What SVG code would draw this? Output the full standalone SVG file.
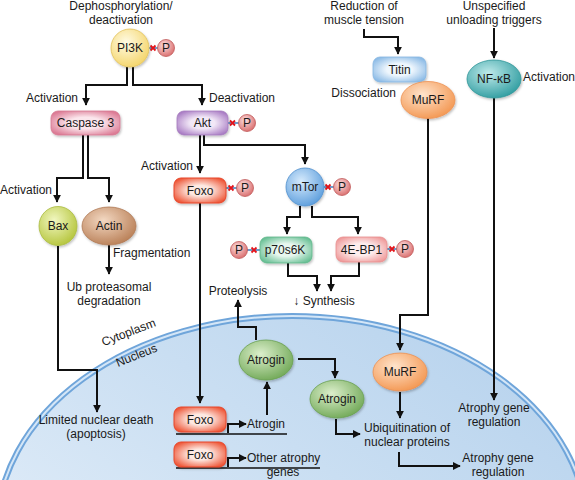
<svg xmlns="http://www.w3.org/2000/svg" width="575" height="480" viewBox="0 0 575 480">
<defs>
<style>
text{font-family:"Liberation Sans",Arial,sans-serif;font-size:12px;fill:#1a1a1a}
.m{text-anchor:middle}
.e{text-anchor:end}
.c{fill:none;stroke:#111;stroke-width:2}
.ca{fill:none;stroke:#111;stroke-width:2;marker-end:url(#ah)}
.dna{fill:none;stroke:#111;stroke-width:1.6}
.xm{stroke:#e3141b;stroke-width:1.8;fill:none}
.bl{stroke:#2f6fb5;stroke-width:1.4}
.pc{fill:url(#gP);stroke:#c05a5a;stroke-width:0.8}
</style>
<marker id="ah" viewBox="0 0 10 10" refX="9" refY="5" markerWidth="4" markerHeight="4" orient="auto" markerUnits="strokeWidth">
<path d="M0,0 L10,5 L0,10 z" fill="#111"/>
</marker>
<filter id="sh" x="-20%" y="-20%" width="150%" height="150%">
<feDropShadow dx="1" dy="1.5" stdDeviation="1" flood-color="#000" flood-opacity="0.25"/>
</filter>
<linearGradient id="gNuc" x1="0" y1="1" x2="1" y2="0">
<stop offset="0" stop-color="#eef5fc"/>
<stop offset="0.6" stop-color="#c9def2"/>
<stop offset="1" stop-color="#b3d0ec"/>
</linearGradient>
<radialGradient id="gP" cx="0.4" cy="0.35" r="0.7"><stop offset="0" stop-color="#fde0e0"/><stop offset="1" stop-color="#d86a6a"/></radialGradient>
<radialGradient id="gPI3K" cx="0.4" cy="0.35" r="0.7"><stop offset="0" stop-color="#fffbe4"/><stop offset="1" stop-color="#f4d468"/></radialGradient>
<radialGradient id="gBax" cx="0.4" cy="0.35" r="0.7"><stop offset="0" stop-color="#f1f7c0"/><stop offset="1" stop-color="#b4c43a"/></radialGradient>
<radialGradient id="gActin" cx="0.4" cy="0.35" r="0.7"><stop offset="0" stop-color="#f3d8c2"/><stop offset="1" stop-color="#b87e55"/></radialGradient>
<radialGradient id="gMtor" cx="0.4" cy="0.35" r="0.7"><stop offset="0" stop-color="#d6eafc"/><stop offset="1" stop-color="#5b9ddc"/></radialGradient>
<radialGradient id="gMurf" cx="0.4" cy="0.35" r="0.7"><stop offset="0" stop-color="#ffe4cc"/><stop offset="1" stop-color="#f39650"/></radialGradient>
<radialGradient id="gNfkb" cx="0.4" cy="0.35" r="0.7"><stop offset="0" stop-color="#bfeaea"/><stop offset="1" stop-color="#2e9ca0"/></radialGradient>
<radialGradient id="gAtro" cx="0.4" cy="0.35" r="0.7"><stop offset="0" stop-color="#dcefcc"/><stop offset="1" stop-color="#70a856"/></radialGradient>
<radialGradient id="gCasp" cx="0.5" cy="0.5" r="0.6"><stop offset="0.4" stop-color="#fbe6ec"/><stop offset="1" stop-color="#dc7b95"/></radialGradient>
<radialGradient id="gAkt" cx="0.5" cy="0.5" r="0.6"><stop offset="0.4" stop-color="#f2e8f7"/><stop offset="1" stop-color="#a97cc4"/></radialGradient>
<radialGradient id="gFoxo" cx="0.5" cy="0.5" r="0.6"><stop offset="0.35" stop-color="#fde9e2"/><stop offset="1" stop-color="#ee5536"/></radialGradient>
<radialGradient id="gTitin" cx="0.5" cy="0.5" r="0.6"><stop offset="0.4" stop-color="#eef6fd"/><stop offset="1" stop-color="#8cbbe6"/></radialGradient>
<radialGradient id="gP70" cx="0.5" cy="0.5" r="0.6"><stop offset="0.4" stop-color="#e8f7ef"/><stop offset="1" stop-color="#69c095"/></radialGradient>
<radialGradient id="g4e" cx="0.5" cy="0.5" r="0.6"><stop offset="0.4" stop-color="#fdeded"/><stop offset="1" stop-color="#ef9a9a"/></radialGradient>
</defs>

<rect width="575" height="480" fill="#fff"/>

<!-- Nucleus -->
<g id="nucleus">
<ellipse cx="292" cy="530" rx="295" ry="214" fill="url(#gNuc)" stroke="#6fa5da" stroke-width="6"/>
<ellipse cx="292" cy="530" rx="295" ry="214" fill="none" stroke="#d4e6f7" stroke-width="2"/>
<text class="m" transform="translate(130,336) rotate(-21)">Cytoplasm</text>
<text class="m" transform="translate(138,359) rotate(-22)">Nucleus</text>
</g>

<!-- Connectors -->
<g id="connectors">
<path class="ca" d="M127,67 V85 H86 V105"/>
<path class="ca" d="M133,67 V85 H202 V105"/>
<path class="ca" d="M200,135 V173"/>
<path class="ca" d="M204,135 V145 H305 V164"/>
<path class="ca" d="M83,135 V178 H57 V202"/>
<path class="ca" d="M88,135 V178 H109 V202"/>
<path class="ca" d="M109,245 V274"/>
<path class="ca" d="M58,246 V370 H97 V412"/>
<path class="ca" d="M200,203 V403"/>
<path class="ca" d="M300,206 V217 H287 V234"/>
<path class="ca" d="M312,206 V217 H358 V234"/>
<path class="ca" d="M288,263 V276 H317 V291"/>
<path class="ca" d="M359,262 V276 H331 V291"/>
<path class="ca" d="M364,29 V37 H398 V54"/>
<path class="ca" d="M428,118 V315 H400 V350"/>
<path class="ca" d="M494,28 V58"/>
<path class="ca" d="M494,98 V400"/>
<path class="ca" d="M267,415 V382"/>
<path class="ca" d="M256,340 V327 H238 V300"/>
<path class="ca" d="M298,359 H335 V378"/>
<path class="ca" d="M336,419 V434 H360"/>
<path class="ca" d="M400,392 V418"/>
<path class="ca" d="M399,452 V466 H460"/>
<path class="ca" d="M228,433 V424 H246"/>
<path class="ca" d="M228,467 V458 H246"/>
<path class="dna" d="M176,434 H287"/>
<path class="dna" d="M176,468 H320"/>
</g>

<!-- Labels -->
<g id="labels">
<text class="m" x="121" y="9.5">Dephosphorylation/</text>
<text class="m" x="121" y="23.5">deactivation</text>
<text class="m" x="364" y="9.5">Reduction of</text>
<text class="m" x="364" y="23.5">muscle tension</text>
<text class="m" x="494" y="9.5">Unspecified</text>
<text class="m" x="494" y="23.5">unloading triggers</text>
<text class="e" x="78" y="102">Activation</text>
<text x="209" y="102">Deactivation</text>
<text class="e" x="52" y="194">Activation</text>
<text class="e" x="193" y="170">Activation</text>
<text class="e" x="396" y="97">Dissociation</text>
<text x="523" y="81">Activation</text>
<text x="113" y="257">Fragmentation</text>
<text class="m" x="109" y="291">Ub proteasomal</text>
<text class="m" x="109" y="304.5">degradation</text>
<text class="m" x="238" y="295">Proteolysis</text>
<text class="m" x="324" y="305">↓ Synthesis</text>
<text class="m" x="96" y="424">Limited nuclear death</text>
<text class="m" x="96" y="438">(apoptosis)</text>
<text x="247" y="428">Atrogin</text>
<text x="247" y="462">Other atrophy</text>
<text class="m" x="283" y="476">genes</text>
<text class="m" x="407" y="432">Ubiquitination of</text>
<text class="m" x="407" y="445.5">nuclear proteins</text>
<text class="m" x="494" y="412">Atrophy gene</text>
<text class="m" x="494" y="425.5">regulation</text>
<text class="m" x="498" y="462">Atrophy gene</text>
<text class="m" x="498" y="476">regulation</text>
</g>

<!-- Nodes -->
<g id="pi3k">
<line class="bl" x1="149" y1="48" x2="158" y2="48"/>
<path class="xm" d="M150.5,45.5 l5,5 M155.5,45.5 l-5,5"/>
<circle cx="130" cy="48" r="19" fill="url(#gPI3K)" stroke="#e2c25a" stroke-width="0.8" filter="url(#sh)"/>
<text class="m" x="130" y="52">PI3K</text>
<circle class="pc" cx="166" cy="48" r="8.5"/>
<text class="m" x="166" y="52">P</text>
</g>

<g id="caspase3">
<rect x="51" y="111" width="69" height="24" rx="7" fill="url(#gCasp)" stroke="#d57a92" stroke-width="0.8" filter="url(#sh)"/>
<text class="m" x="85.5" y="127">Caspase 3</text>
</g>

<g id="akt">
<line class="bl" x1="228" y1="123" x2="239" y2="123"/>
<path class="xm" d="M230,120.5 l5,5 M235,120.5 l-5,5"/>
<rect x="177" y="111" width="51" height="24" rx="7" fill="url(#gAkt)" stroke="#a47bbe" stroke-width="0.8" filter="url(#sh)"/>
<text class="m" x="202.5" y="127">Akt</text>
<circle class="pc" cx="247" cy="123" r="8.5"/>
<text class="m" x="247" y="127">P</text>
</g>

<g id="bax">
<ellipse cx="58" cy="226" rx="19" ry="19.5" fill="url(#gBax)" stroke="#aabb40" stroke-width="0.8" filter="url(#sh)"/>
<text class="m" x="58" y="230">Bax</text>
</g>

<g id="actin">
<ellipse cx="109" cy="226" rx="27" ry="19" fill="url(#gActin)" stroke="#b07a55" stroke-width="0.8" filter="url(#sh)"/>
<text class="m" x="109" y="230">Actin</text>
</g>

<g id="foxo">
<line class="bl" x1="226" y1="188" x2="237" y2="188"/>
<path class="xm" d="M228.5,185.5 l5,5 M233.5,185.5 l-5,5"/>
<rect x="174" y="178" width="52" height="25" rx="7" fill="url(#gFoxo)" stroke="#e8472a" stroke-width="1" filter="url(#sh)"/>
<text class="m" x="200" y="194.5">Foxo</text>
<circle class="pc" cx="245" cy="188" r="8.5"/>
<text class="m" x="245" y="192">P</text>
</g>

<g id="mtor">
<line class="bl" x1="323" y1="187" x2="334" y2="187"/>
<path class="xm" d="M325.5,184.5 l5,5 M330.5,184.5 l-5,5"/>
<circle cx="305" cy="187" r="19" fill="url(#gMtor)" stroke="#4f8fce" stroke-width="0.8" filter="url(#sh)"/>
<text class="m" x="305" y="191">mTor</text>
<circle class="pc" cx="342" cy="187" r="8.5"/>
<text class="m" x="342" y="191">P</text>
</g>

<g id="p70s6k">
<line class="bl" x1="247" y1="250" x2="260" y2="250"/>
<path class="xm" d="M251.5,247.5 l5,5 M256.5,247.5 l-5,5"/>
<rect x="260" y="237" width="52" height="26" rx="7" fill="url(#gP70)" stroke="#5fb68a" stroke-width="0.8" filter="url(#sh)"/>
<text class="m" x="285" y="254">p70s6K</text>
<circle class="pc" cx="239" cy="250" r="8.5"/>
<text class="m" x="239" y="254">P</text>
</g>

<g id="fourebp1">
<line class="bl" x1="387" y1="249" x2="398" y2="249"/>
<path class="xm" d="M389.5,246.5 l5,5 M394.5,246.5 l-5,5"/>
<rect x="336" y="237" width="51" height="25" rx="7" fill="url(#g4e)" stroke="#e88e8e" stroke-width="0.8" filter="url(#sh)"/>
<text class="m" x="361.5" y="253.5">4E-BP1</text>
<circle class="pc" cx="405" cy="249" r="8.5"/>
<text class="m" x="405" y="253">P</text>
</g>

<g id="titin">
<rect x="373" y="57" width="53" height="25" rx="7" fill="url(#gTitin)" stroke="#86b6e2" stroke-width="0.8" filter="url(#sh)"/>
<text class="m" x="399.5" y="73.5">Titin</text>
</g>

<g id="murf1">
<ellipse cx="428" cy="100" rx="27" ry="18.5" fill="url(#gMurf)" stroke="#ee9050" stroke-width="0.8" filter="url(#sh)"/>
<text class="m" x="428" y="104">MuRF</text>
</g>

<g id="nfkb">
<ellipse cx="494" cy="79" rx="27" ry="19" fill="url(#gNfkb)" stroke="#2e9598" stroke-width="0.8" filter="url(#sh)"/>
<text class="m" x="494" y="83">NF-κB</text>
</g>

<g id="atrogin1">
<ellipse cx="266" cy="360" rx="27" ry="20" fill="url(#gAtro)" stroke="#6aa050" stroke-width="0.8" filter="url(#sh)"/>
<text class="m" x="266" y="364">Atrogin</text>
</g>

<g id="atrogin2">
<ellipse cx="337" cy="399" rx="27" ry="19" fill="url(#gAtro)" stroke="#6aa050" stroke-width="0.8" filter="url(#sh)"/>
<text class="m" x="337" y="403">Atrogin</text>
</g>

<g id="murf2">
<ellipse cx="400" cy="372" rx="27" ry="19" fill="url(#gMurf)" stroke="#ee9050" stroke-width="0.8" filter="url(#sh)"/>
<text class="m" x="400" y="376">MuRF</text>
</g>

<g id="foxo2">
<rect x="174" y="407" width="52" height="25" rx="7" fill="url(#gFoxo)" stroke="#e8472a" stroke-width="1" filter="url(#sh)"/>
<text class="m" x="200" y="423.5">Foxo</text>
</g>

<g id="foxo3">
<rect x="174" y="442" width="52" height="25" rx="7" fill="url(#gFoxo)" stroke="#e8472a" stroke-width="1" filter="url(#sh)"/>
<text class="m" x="200" y="458.5">Foxo</text>
</g>
</svg>
